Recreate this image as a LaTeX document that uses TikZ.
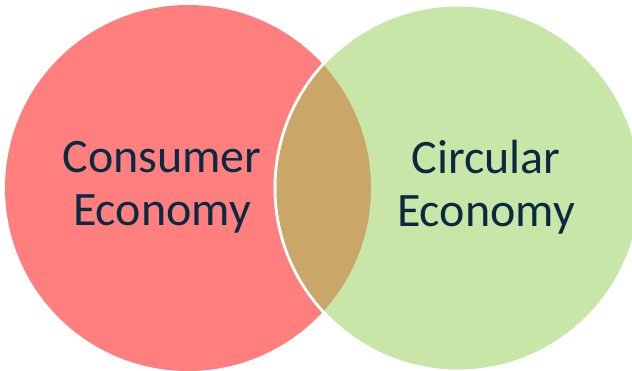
\documentclass[tikz,border=0pt]{standalone}
\usepackage{fontspec}
\setmainfont{Carlito}
\definecolor{cred}{HTML}{FF7F7F}
\definecolor{cgreen}{HTML}{C8E6A7}
\definecolor{cbrown}{HTML}{CAA669}
\definecolor{ctext}{HTML}{0A2A42}
\begin{document}
\begin{tikzpicture}[x=1pt,y=-1pt,
  label/.style={text=ctext,font=\fontsize{48}{53}\selectfont,align=center,inner sep=0pt}]
\useasboundingbox (0,0) rectangle (632,370);
\begin{scope}
\clip (0,0) rectangle (632,370);
\fill[cred] (188,188) circle (183);
\filldraw[fill=cgreen,draw=white,line width=3pt] (458,188) circle (183);
\begin{scope}
\clip (188,188) circle (183);
\fill[cbrown] (458,188) circle (181.5);
\end{scope}
\end{scope}
\node[label] (cons) at (162,187) {Consumer\\Economy};
\node[label] (circ) at (486,187) {Circular\\Economy};
\end{tikzpicture}
\end{document}
